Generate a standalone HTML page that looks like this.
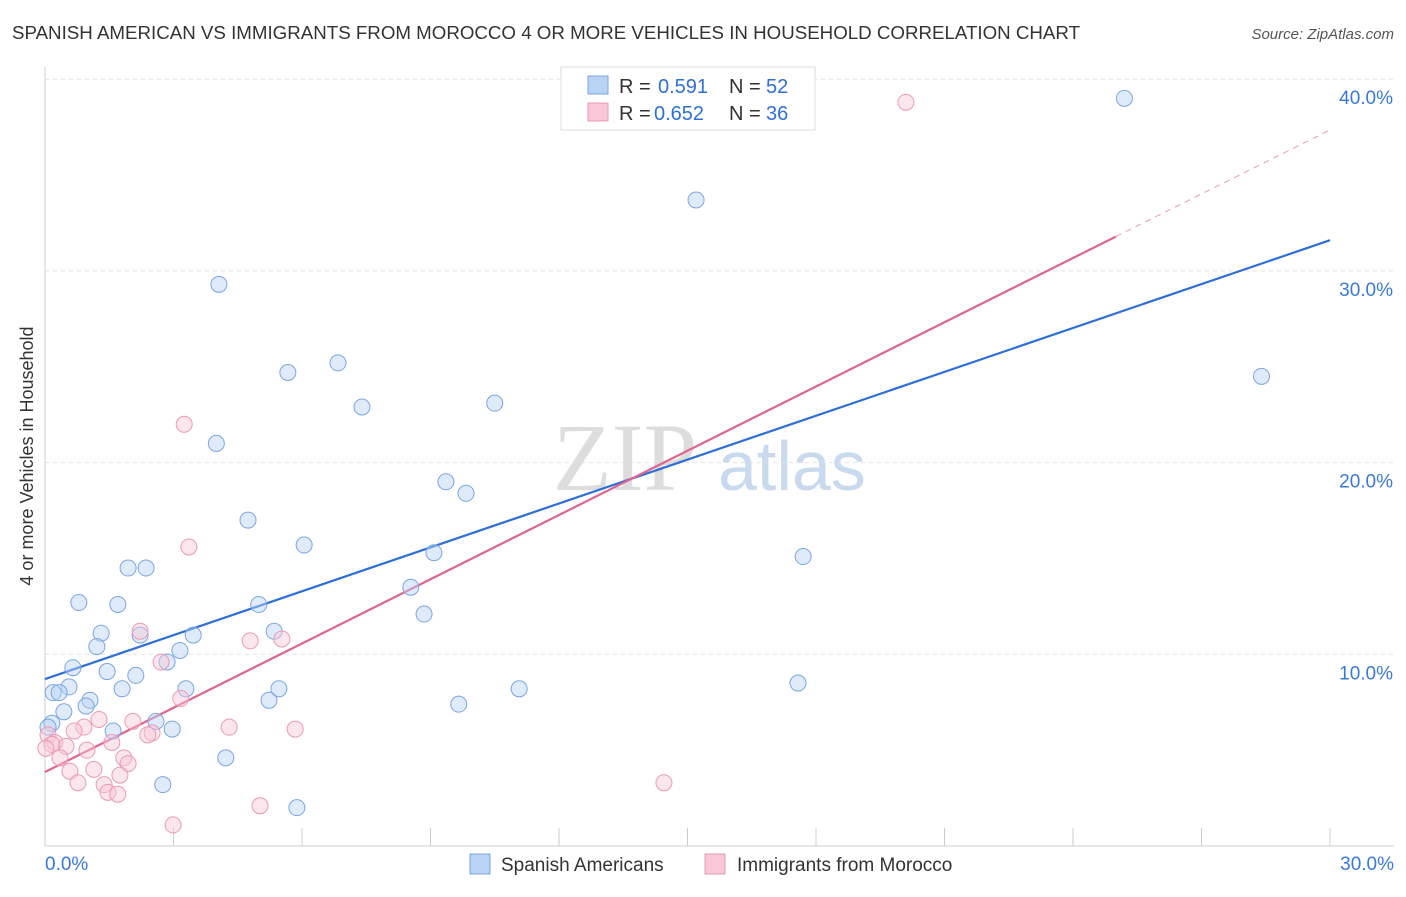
<!DOCTYPE html>
<html><head><meta charset="utf-8"><style>
body{margin:0;background:#fff;font-family:"Liberation Sans",sans-serif;}
</style></head><body>
<svg id="c" width="1406" height="892" xmlns="http://www.w3.org/2000/svg">
<text x="12" y="39" font-size="18" fill="#333" textLength="1068" lengthAdjust="spacingAndGlyphs">SPANISH AMERICAN VS IMMIGRANTS FROM MOROCCO 4 OR MORE VEHICLES IN HOUSEHOLD CORRELATION CHART</text>
<text x="1394" y="39" font-size="15" fill="#555" font-style="italic" text-anchor="end">Source: ZipAtlas.com</text>
<g><text x="553" y="490" font-size="96" font-family="Liberation Serif" fill="#ddd">ZIP</text><text x="718" y="490" font-size="70" fill="#c9d9ee">atlas</text></g>
<g id="grid"></g><g id="axes"></g><g id="lines"></g><g id="pts"></g>
<text x="33" y="456" font-size="18" fill="#333" text-anchor="middle" transform="rotate(-90 33 456)">4 or more Vehicles in Household</text>
<g>
<rect x="561" y="67" width="254" height="63" fill="#fff" stroke="#ddd"/>
<rect x="588" y="76" width="20" height="18" fill="#b9d3f5" stroke="#7aa6e0"/>
<text x="619" y="93" font-size="20" fill="#333">R =</text><text x="658" y="93" font-size="20" fill="#2f6fd6">0.591</text>
<text x="729" y="93" font-size="20" fill="#333">N =</text><text x="766" y="93" font-size="20" fill="#2f6fd6">52</text>
<rect x="588" y="103" width="20" height="18" fill="#f9c7d7" stroke="#e99ab5"/>
<text x="619" y="120" font-size="20" fill="#333">R =</text><text x="654" y="120" font-size="20" fill="#2f6fd6">0.652</text>
<text x="729" y="120" font-size="20" fill="#333">N =</text><text x="766" y="120" font-size="20" fill="#2f6fd6">36</text>
</g>
<g>
<rect x="470" y="854" width="20" height="20" fill="#b9d3f5" stroke="#7aa6e0"/>
<text x="501" y="871" font-size="19" fill="#333">Spanish Americans</text>
<rect x="705" y="854" width="20" height="20" fill="#f9c7d7" stroke="#e99ab5"/>
<text x="737" y="871" font-size="19" fill="#333">Immigrants from Morocco</text>
</g>
</svg>
<script>
const yTicks=[10,20,30,40];
const xTickLabels=["0.0%","30.0%"];
const blueX=[25.2,15.2,4.06,28.4,5.67,6.84,7.4,10.5,4.0,9.36,9.83,4.74,6.05,9.08,17.7,1.94,2.36,8.54,0.79,1.7,4.99,8.85,1.31,2.22,3.46,5.35,1.21,3.15,0.65,2.85,1.45,2.12,0.19,0.56,0.33,1.05,0.96,1.8,3.29,5.46,5.23,11.07,17.58,9.66,0.44,0.16,2.59,1.59,2.97,4.22,2.75,5.88,0.07];
const blueY=[39.0,33.7,29.3,24.5,24.7,25.2,22.9,23.1,21.0,19.0,18.4,17.0,15.7,15.3,15.1,14.5,14.5,13.5,12.7,12.6,12.6,12.1,11.1,11.0,11.0,11.2,10.4,10.2,9.3,9.6,9.1,8.9,8.0,8.3,8.0,7.6,7.3,8.2,8.2,8.2,7.6,8.2,8.5,7.4,7.0,6.4,6.5,6.0,6.1,4.6,3.2,2.0,6.2];
const pinkX=[20.1,3.25,3.36,2.22,4.79,5.53,2.71,3.17,1.26,2.05,0.91,0.68,2.5,2.4,4.3,5.84,0.07,0.23,0.49,0.98,1.56,0.35,1.84,1.94,0.58,1.14,1.75,0.77,1.38,1.47,1.7,14.45,5.02,2.99,0.16,0.02];
const pinkY=[38.8,22.0,15.6,11.2,10.7,10.8,9.6,7.7,6.6,6.5,6.2,6.0,5.9,5.8,6.2,6.1,5.8,5.4,5.2,5.0,5.4,4.6,4.6,4.3,3.9,4.0,3.7,3.3,3.2,2.8,2.7,3.3,2.1,1.1,5.3,5.1];
const blueLine=[[0,8.71],[30,31.6]];
const pinkLine=[[0,3.86],[25,31.79]];
const pinkDash=[[25,31.79],[30,37.35]];
const NS="http://www.w3.org/2000/svg";
const X=v=>45+v/30*1285, Y=v=>846-v*19.17;
function mk(p,t,a){const e=document.createElementNS(NS,t);for(const k in a)e.setAttribute(k,a[k]);document.getElementById(p).appendChild(e);return e;}
yTicks.forEach(t=>{
 const l=mk('grid','line',{x1:45,x2:1394,y1:Y(t),y2:Y(t),stroke:'#e2e2e2','stroke-dasharray':'4,4'});
 
 
 const tx=mk('grid','text',{x:1393,y:Y(t)+25,'font-size':19,fill:'#3a78dc','text-anchor':'end'});
 tx.textContent=t.toFixed(1)+'%';
 
 
});
mk('axes','line',{x1:45,x2:45,y1:67,y2:846,stroke:'#ccc'});
mk('axes','line',{x1:45,x2:1394,y1:846,y2:846,stroke:'#ccc'});
for(let i=0;i<=10;i++){
 const t=mk('axes','line',{x1:X(i*3),x2:X(i*3),y1:828,y2:846,stroke:'#ccc'});
 
 
}
[[0,'start',45],[30,'end',1394]].forEach((d,i)=>{
 const tx=mk('axes','text',{x:d[2],y:870,'font-size':19,fill:'#3a78dc','text-anchor':d[1]});
 tx.textContent=xTickLabels[i];
 
 
});
function ln(d,c,dash,name){const l=mk('lines','line',{x1:X(d[0][0]),y1:Y(d[0][1]),x2:X(d[1][0]),y2:Y(d[1][1]),stroke:c,'stroke-width':dash?1:2.2});
 if(dash)l.setAttribute('stroke-dasharray','6,5');
 
 }
function pts(xs,ys,f,s,name){xs.forEach((x,i)=>{const c=mk('pts','circle',{cx:X(x),cy:Y(ys[i]),r:8,fill:f,'fill-opacity':0.45,stroke:s,'stroke-width':1});
 
 });}
pts(blueX,blueY,'#b9d3f5','#7aa6e0','spanish-american-point');
pts(pinkX,pinkY,'#f9c7d7','#e99ab5','morocco-point');
ln(blueLine,'#2f6fd6',false,'spanish-american-trendline');
ln(pinkLine,'#e0668f',false,'morocco-trendline');
ln(pinkDash,'#e99ab5',true,'morocco-trendline-extension');
</script>
</body></html>
